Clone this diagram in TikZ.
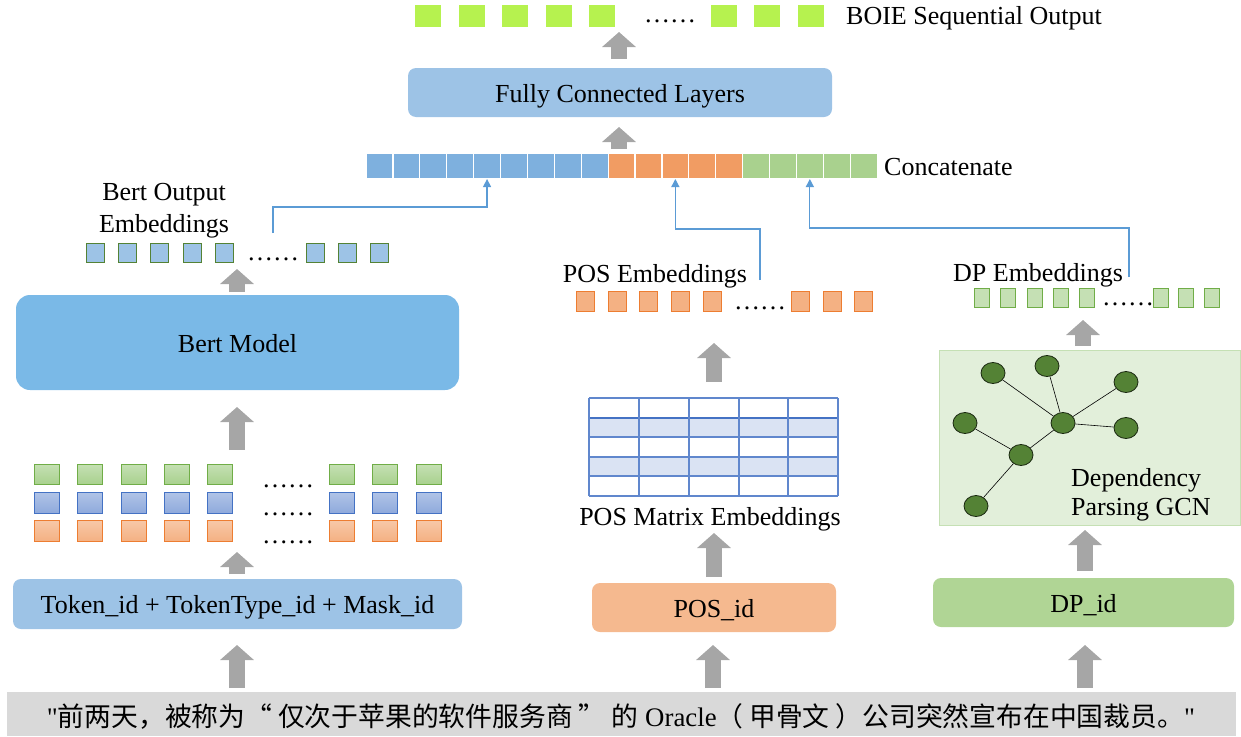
\documentclass[tikz,border=0pt]{standalone}
\usepackage{fontspec}
\setmainfont{Liberation Serif}
\newfontfamily\qfont[Ligatures=TeXOff]{Liberation Serif}
\newfontfamily\cjk{Noto Sans CJK SC}
\usetikzlibrary{arrows.meta,shapes.geometric}
\definecolor{lime}{HTML}{B6F24F}
\definecolor{fclblue}{HTML}{9DC3E6}
\definecolor{bertblue}{HTML}{7AB9E7}
\definecolor{catblue}{HTML}{7EB0DE}
\definecolor{catorange}{HTML}{F19C63}
\definecolor{catgreen}{HTML}{A9D18E}
\definecolor{linkblue}{HTML}{5B9BD5}
\definecolor{arrowgray}{HTML}{A6A6A6}
\definecolor{bggray}{HTML}{D9D9D9}
\definecolor{dkgreen}{HTML}{548235}
\definecolor{gcnfill}{HTML}{E2EFDA}
\definecolor{gcnborder}{HTML}{C5E0B4}
\definecolor{posfill}{HTML}{F4B183}
\definecolor{posborder}{HTML}{ED7D31}
\definecolor{tokblue}{HTML}{8FAADC}
\definecolor{tokblueb}{HTML}{4472C4}
\definecolor{tokgreenb}{HTML}{70AD47}
\definecolor{tabfill}{HTML}{DAE3F3}
\definecolor{dpidfill}{HTML}{B0D595}
\begin{document}
\begin{tikzpicture}[x=1pt,y=-1pt,
  font=\fontsize{26}{32}\selectfont,
  rbox/.style={rounded corners=8pt, inner sep=0pt, outer sep=0pt, text height=19pt, text depth=0pt},
  sq/.style={inner sep=0pt, outer sep=0pt, line width=0.8pt},
  cell/.style={inner sep=0pt, outer sep=0pt, draw=white, line width=1.2pt, minimum width=26.9pt, minimum height=26pt},
  dots/.style={inner sep=0pt, font=\fontsize{26}{26}\selectfont},
  lbl/.style={inner sep=0pt},
  blockarrow/.style={draw=arrowgray, line width=16pt, -{Triangle[width=33pt,length=15pt]}, arrowgray},
  link/.style={draw=linkblue, line width=1.2pt, -{Triangle[width=8pt,length=8pt]}},
  gnode/.style={ellipse, draw=black!70!dkgreen, fill=dkgreen, line width=0.8pt, minimum width=24pt, minimum height=21pt, inner sep=0pt},
  gedge/.style={draw=black, line width=0.6pt}
]
\useasboundingbox (0,0) rectangle (1241,736);

% ---------- top output ----------
\foreach \x [count=\i] in {415,459,502,546,589,711,754,798}
  \node[sq, fill=lime, minimum width=26pt, minimum height=22pt] (out\i) at (\x+13,16) {};
\node[dots] (outdots) at (670,21) {……};
\node[lbl, anchor=west] (boie) at (846,18) {BOIE Sequential Output};

% ---------- FCL ----------
\node[rbox, fill=fclblue, minimum width=424pt, minimum height=49pt] (fcl) at (620,92.5) {Fully Connected Layers};

% ---------- concat bar ----------
\foreach \i in {1,...,9}
  \node[cell, fill=catblue] (c\i) at (366+26.9*\i-13.45,166) {};
\foreach \i in {10,...,14}
  \node[cell, fill=catorange] (c\i) at (366+26.9*\i-13.45,166) {};
\foreach \i in {15,...,19}
  \node[cell, fill=catgreen] (c\i) at (366+26.9*\i-13.45,166) {};
\node[lbl, anchor=west] (concat) at (884,167) {Concatenate};

% ---------- Bert branch ----------
\node[lbl, align=center] (bertlbl) at (164,211) {Bert Output\\Embeddings};
\foreach \x [count=\i] in {86,118,150,183,215,306,338,370}
  \node[sq, fill=fclblue, draw=dkgreen, minimum width=18pt, minimum height=19pt] (bo\i) at (\x+9,252.5) {};
\node[dots] (bodots) at (273,259) {……};

\node[rbox, rounded corners=14pt, fill=bertblue, minimum width=443pt, minimum height=95pt] (bert) at (237.5,342.5) {Bert Model};

\foreach \x [count=\i] in {34,77,121,164,207,329,372,416} {
  \node[sq, top color=gcnborder, bottom color=catgreen, draw=tokgreenb, minimum width=25pt, minimum height=20pt] (tg\i) at (\x+12.5,474) {};
  \node[sq, top color=tokblue!70!white, bottom color=tokblue, draw=tokblueb, minimum width=25pt, minimum height=21pt] (tb\i) at (\x+12.5,502.5) {};
  \node[sq, top color=posfill!70!white, bottom color=posfill, draw=posborder, minimum width=25pt, minimum height=21pt] (to\i) at (\x+12.5,530.5) {};
}
\node[dots] (tdots1) at (288,486) {……};
\node[dots] (tdots2) at (288,514) {……};
\node[dots] (tdots3) at (288,542) {……};

\node[rbox, fill=fclblue, minimum width=449pt, minimum height=50pt] (tok) at (237.5,604) {Token\_id + TokenType\_id + Mask\_id};

% ---------- POS branch ----------
\node[lbl] (poslbl) at (655,276) {POS Embeddings};
\foreach \x [count=\i] in {576,608,639,671,703,791,823,854}
  \node[sq, fill=posfill, draw=posborder, minimum width=18pt, minimum height=20pt] (pe\i) at (\x+9,301) {};
\node[dots] (pedots) at (760,308) {……};

% table
\fill[tabfill] (589,418) rectangle (838,437);
\fill[tabfill] (589,457) rectangle (838,476);
\foreach \yy in {398,437,457,476,496}
  \draw[tokblueb!85!white, line width=1.3pt] (589,\yy) -- (838,\yy);
\draw[tokblueb, line width=2.2pt] (589,418) -- (838,418);
\foreach \xx in {589,639,689,739,788,838}
  \draw[tokblueb!85!white, line width=1.3pt] (\xx,398) -- (\xx,496);
\node[inner sep=0pt, minimum width=249pt, minimum height=98pt] (posmat) at (713.5,447) {};
\node[lbl] (posmatlbl) at (710,519) {POS Matrix Embeddings};

\node[rbox, fill=posfill!90!white, minimum width=244pt, minimum height=49pt] (posid) at (714,607.5) {POS\_id};

% ---------- DP branch ----------
\node[lbl] (dplbl) at (1038,275) {DP Embeddings};
\foreach \x [count=\i] in {974,1000,1027,1053,1079,1153,1178,1204}
  \node[sq, fill=gcnborder, draw=tokgreenb, minimum width=15pt, minimum height=19pt] (de\i) at (\x+7.5,297.5) {};
\node[dots] (dedots) at (1128,304) {……};

\node[fill=gcnfill, draw=gcnborder, line width=0.8pt, inner sep=0pt, minimum width=301pt, minimum height=175pt] (gcn) at (1089.5,437.5) {};
\node[gnode] (g1) at (993,373) {};
\node[gnode] (g2) at (1047,366) {};
\node[gnode] (g3) at (1126,382) {};
\node[gnode] (g4) at (1063,423) {};
\node[gnode] (g5) at (965,423) {};
\node[gnode] (g6) at (1126,428) {};
\node[gnode] (g7) at (1021,455) {};
\node[gnode] (g8) at (976,506) {};
\draw[gedge] (g1) -- (g4);
\draw[gedge] (g2) -- (g4);
\draw[gedge] (g3) -- (g4);
\draw[gedge] (g6) -- (g4);
\draw[gedge] (g7) -- (g4);
\draw[gedge] (g5) -- (g7);
\draw[gedge] (g8) -- (g7);
\node[lbl, anchor=west, align=left, font=\fontsize{26}{29}\selectfont] (gcnlbl) at (1071,495) {Dependency\\Parsing GCN};

\node[rbox, fill=dpidfill, minimum width=301pt, minimum height=49pt] (dpid) at (1083.5,602.5) {DP\_id};

% ---------- bottom sentence ----------
\node[fill=bggray, inner sep=0pt, minimum width=1229pt, minimum height=44pt] (sent) at (621.5,714) {};
\node[inner sep=0pt] (senttext) at (621,716) {\resizebox{1148pt}{!}{{\qfont "}{\cjk 前两天，被称为“ 仅次于苹果的软件服务商 ” 的} Oracle{\cjk （ 甲骨文 ）公司突然宣布在中国裁员。}{\qfont "}}};

% ---------- gray block arrows ----------
\coordinate (a1s) at (619,59);  \coordinate (a1e) at (619,32);
\coordinate (a2s) at (619,149); \coordinate (a2e) at (619,127);
\coordinate (a3s) at (237,292); \coordinate (a3e) at (237,269);
\coordinate (a4s) at (237,450); \coordinate (a4e) at (237,407);
\coordinate (a5s) at (237,574); \coordinate (a5e) at (237,552);
\coordinate (a6s) at (237,688); \coordinate (a6e) at (237,645);
\coordinate (a7s) at (713,688); \coordinate (a7e) at (713,645);
\coordinate (a8s) at (1085,688); \coordinate (a8e) at (1085,645);
\coordinate (a9s) at (714,577); \coordinate (a9e) at (714,533);
\coordinate (a10s) at (714,382); \coordinate (a10e) at (714,343);
\coordinate (a11s) at (1085,571); \coordinate (a11e) at (1085,530);
\coordinate (a12s) at (1083,346); \coordinate (a12e) at (1083,320);
\foreach \i in {1,...,12}
  \draw[blockarrow] (a\i s) -- (a\i e);

% ---------- blue links ----------
\coordinate (bostart) at (273,233);
\coordinate (pestart) at (760,280);
\coordinate (destart) at (1129,277);
\draw[link] (bostart) -- ++(0,-26) -| (c5.south);
\draw[link] (pestart) -- ++(0,-51) -| (c12.south);
\draw[link] (destart) -- ++(0,-49) -| (c17.south);
\end{tikzpicture}
\end{document}
